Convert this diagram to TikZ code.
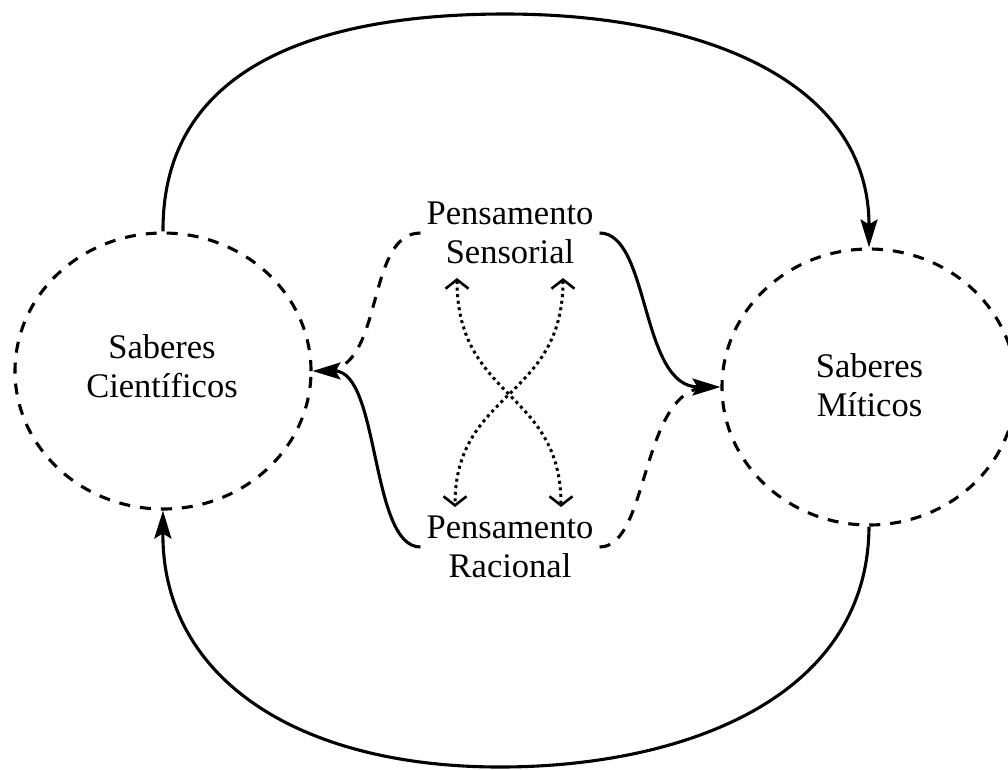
\documentclass[tikz,border=0pt]{standalone}
\usepackage{fontspec}
\setmainfont{Liberation Serif}
\usetikzlibrary{arrows.meta,shapes.geometric}
\tikzset{openbarb/.tip={Straight Barb[length=9pt,width=23pt,line width=2.6pt]}}
\begin{document}
\begin{tikzpicture}[x=1pt,y=-1pt,
  txt/.style={font=\fontsize{34.5}{39}\selectfont, align=center, inner xsep=6pt, inner ysep=0pt},
  saber/.style={ellipse, draw, line width=3.1pt, dash pattern=on 11pt off 10pt,
    minimum width=296pt, minimum height=276pt, inner sep=0pt},
  link/.style={line width=3.1pt},
  head/.style={-{Stealth[length=28pt,width=17pt,inset=5pt]}},
  dashlink/.style={link, dash pattern=on 11pt off 10pt},
  dotlink/.style={line width=3pt, dash pattern=on 3pt off 3.6pt, openbarb-openbarb}
]
\useasboundingbox (0,0) rectangle (1008,769);

% the two knowledge circles
\node[saber] (L) at (163,371) {};
\node[saber, minimum width=294pt] (R) at (869,387) {};
\node[txt] (Lt) at (162,366) {Saberes\\Científicos};
\node[txt] (Rt) at (869.5,385) {Saberes\\Míticos};

% the two kinds of thought
\node[txt] (S) at (510,233) {Pensamento\\Sensorial};
\node[txt] (Ra) at (510,547) {Pensamento\\Racional};

% ends of the crossing dotted arrows
\coordinate (s1) at (457,278);
\coordinate (s2) at (563,278);
\coordinate (r1) at (455,507);
\coordinate (r2) at (561,507);

% outer cycle
\draw[link,head] (L.north) .. controls (162,60) and (330,14) .. (505,14)
  .. controls (700,14) and (869,80) .. (R.north);
\draw[link,head] (R.south) .. controls (868,700) and (680,767) .. (500,767)
  .. controls (300,767) and (162,680) .. (L.south);

% links from the thoughts to the circles
\draw[dashlink, shorten >=12pt] (S.west) .. controls (365,233) and (385,371) .. (L.east);
\draw[link,head] (Ra.west) .. controls (370,547) and (380,371) .. (L.east);
\draw[dashlink, shorten >=12pt] (Ra.east) .. controls (650,547) and (640,387) .. (R.west);
\draw[link,head] (S.east) .. controls (650,233) and (640,387) .. (R.west);

% crossing dotted arrows
\draw[dotlink] (s1) .. controls (457,400) and (561,390) .. (r2);
\draw[dotlink] (s2) .. controls (563,400) and (455,390) .. (r1);
\end{tikzpicture}
\end{document}
